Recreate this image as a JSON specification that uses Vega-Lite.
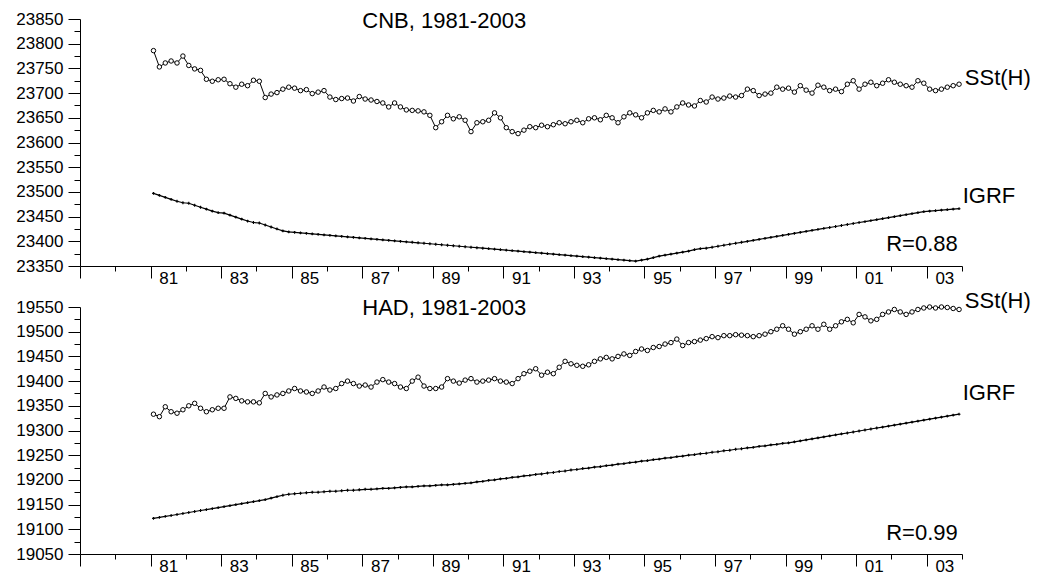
{
  "$schema": "https://vega.github.io/schema/vega-lite/v6.json",
  "background": "white",
  "padding": {"left": 15, "top": 10, "right": 5, "bottom": 5},
  "bounds": "flush",
  "spacing": 41,
  "config": {
    "view": {"stroke": null},
    "font": "Liberation Sans",
    "axis": {"domainColor": "black", "domainWidth": 1, "tickColor": "black", "tickWidth": 1, "labelColor": "black", "labelFont": "Liberation Sans", "labelFontSize": 17, "grid": false, "labelOverlap": false, "labelFlush": false, "labelBound": false}
  },
  "datasets": {
    "cnb": [
      {"t": 1981.083, "sst": 23786, "igrf": 23497}, {"t": 1981.25, "sst": 23753, "igrf": 23493}, {"t": 1981.417, "sst": 23761, "igrf": 23489}, {"t": 1981.583, "sst": 23765, "igrf": 23485}, {"t": 1981.75, "sst": 23761, "igrf": 23481}, {"t": 1981.917, "sst": 23775, "igrf": 23478},
      {"t": 1982.083, "sst": 23756, "igrf": 23477}, {"t": 1982.25, "sst": 23749, "igrf": 23473}, {"t": 1982.417, "sst": 23746, "igrf": 23469}, {"t": 1982.583, "sst": 23728, "igrf": 23465}, {"t": 1982.75, "sst": 23724, "igrf": 23461}, {"t": 1982.917, "sst": 23727, "igrf": 23458},
      {"t": 1983.083, "sst": 23728, "igrf": 23457}, {"t": 1983.25, "sst": 23719, "igrf": 23453}, {"t": 1983.417, "sst": 23712, "igrf": 23449}, {"t": 1983.583, "sst": 23718, "igrf": 23445}, {"t": 1983.75, "sst": 23715, "igrf": 23441}, {"t": 1983.917, "sst": 23726, "igrf": 23438},
      {"t": 1984.083, "sst": 23724, "igrf": 23437}, {"t": 1984.25, "sst": 23691, "igrf": 23433}, {"t": 1984.417, "sst": 23698, "igrf": 23429}, {"t": 1984.583, "sst": 23701, "igrf": 23425}, {"t": 1984.75, "sst": 23708, "igrf": 23421}, {"t": 1984.917, "sst": 23712, "igrf": 23419},
      {"t": 1985.083, "sst": 23710, "igrf": 23418}, {"t": 1985.25, "sst": 23705, "igrf": 23417}, {"t": 1985.417, "sst": 23707, "igrf": 23416}, {"t": 1985.583, "sst": 23699, "igrf": 23415}, {"t": 1985.75, "sst": 23702, "igrf": 23414}, {"t": 1985.917, "sst": 23705, "igrf": 23413},
      {"t": 1986.083, "sst": 23692, "igrf": 23412}, {"t": 1986.25, "sst": 23687, "igrf": 23411}, {"t": 1986.417, "sst": 23689, "igrf": 23410}, {"t": 1986.583, "sst": 23690, "igrf": 23409}, {"t": 1986.75, "sst": 23684, "igrf": 23408}, {"t": 1986.917, "sst": 23693, "igrf": 23407},
      {"t": 1987.083, "sst": 23688, "igrf": 23406}, {"t": 1987.25, "sst": 23686, "igrf": 23405}, {"t": 1987.417, "sst": 23683, "igrf": 23404}, {"t": 1987.583, "sst": 23680, "igrf": 23403}, {"t": 1987.75, "sst": 23672, "igrf": 23402}, {"t": 1987.917, "sst": 23680, "igrf": 23401},
      {"t": 1988.083, "sst": 23672, "igrf": 23400}, {"t": 1988.25, "sst": 23666, "igrf": 23399}, {"t": 1988.417, "sst": 23665, "igrf": 23398}, {"t": 1988.583, "sst": 23664, "igrf": 23397}, {"t": 1988.75, "sst": 23662, "igrf": 23396}, {"t": 1988.917, "sst": 23655, "igrf": 23395},
      {"t": 1989.083, "sst": 23630, "igrf": 23394}, {"t": 1989.25, "sst": 23642, "igrf": 23393}, {"t": 1989.417, "sst": 23655, "igrf": 23392}, {"t": 1989.583, "sst": 23648, "igrf": 23391}, {"t": 1989.75, "sst": 23652, "igrf": 23390}, {"t": 1989.917, "sst": 23645, "igrf": 23389},
      {"t": 1990.083, "sst": 23622, "igrf": 23388}, {"t": 1990.25, "sst": 23640, "igrf": 23387}, {"t": 1990.417, "sst": 23642, "igrf": 23386}, {"t": 1990.583, "sst": 23645, "igrf": 23385}, {"t": 1990.75, "sst": 23660, "igrf": 23384}, {"t": 1990.917, "sst": 23650, "igrf": 23383},
      {"t": 1991.083, "sst": 23630, "igrf": 23382}, {"t": 1991.25, "sst": 23622, "igrf": 23381}, {"t": 1991.417, "sst": 23618, "igrf": 23380}, {"t": 1991.583, "sst": 23625, "igrf": 23379}, {"t": 1991.75, "sst": 23632, "igrf": 23378}, {"t": 1991.917, "sst": 23630, "igrf": 23377},
      {"t": 1992.083, "sst": 23635, "igrf": 23376}, {"t": 1992.25, "sst": 23632, "igrf": 23375}, {"t": 1992.417, "sst": 23636, "igrf": 23374}, {"t": 1992.583, "sst": 23640, "igrf": 23373}, {"t": 1992.75, "sst": 23638, "igrf": 23372}, {"t": 1992.917, "sst": 23642, "igrf": 23371},
      {"t": 1993.083, "sst": 23645, "igrf": 23370}, {"t": 1993.25, "sst": 23640, "igrf": 23369}, {"t": 1993.417, "sst": 23648, "igrf": 23368}, {"t": 1993.583, "sst": 23650, "igrf": 23367}, {"t": 1993.75, "sst": 23646, "igrf": 23366}, {"t": 1993.917, "sst": 23655, "igrf": 23365},
      {"t": 1994.083, "sst": 23650, "igrf": 23364}, {"t": 1994.25, "sst": 23640, "igrf": 23363}, {"t": 1994.417, "sst": 23652, "igrf": 23362}, {"t": 1994.583, "sst": 23660, "igrf": 23361}, {"t": 1994.75, "sst": 23656, "igrf": 23360}, {"t": 1994.917, "sst": 23650, "igrf": 23362},
      {"t": 1995.083, "sst": 23660, "igrf": 23364}, {"t": 1995.25, "sst": 23665, "igrf": 23367}, {"t": 1995.417, "sst": 23662, "igrf": 23370}, {"t": 1995.583, "sst": 23668, "igrf": 23372}, {"t": 1995.75, "sst": 23662, "igrf": 23374}, {"t": 1995.917, "sst": 23672, "igrf": 23376},
      {"t": 1996.083, "sst": 23680, "igrf": 23378}, {"t": 1996.25, "sst": 23676, "igrf": 23380}, {"t": 1996.417, "sst": 23674, "igrf": 23383}, {"t": 1996.583, "sst": 23685, "igrf": 23385}, {"t": 1996.75, "sst": 23682, "igrf": 23386}, {"t": 1996.917, "sst": 23692, "igrf": 23388},
      {"t": 1997.083, "sst": 23688, "igrf": 23390}, {"t": 1997.25, "sst": 23690, "igrf": 23392}, {"t": 1997.417, "sst": 23694, "igrf": 23394}, {"t": 1997.583, "sst": 23692, "igrf": 23396}, {"t": 1997.75, "sst": 23695, "igrf": 23398}, {"t": 1997.917, "sst": 23708, "igrf": 23400},
      {"t": 1998.083, "sst": 23705, "igrf": 23402}, {"t": 1998.25, "sst": 23695, "igrf": 23404}, {"t": 1998.417, "sst": 23698, "igrf": 23406}, {"t": 1998.583, "sst": 23700, "igrf": 23408}, {"t": 1998.75, "sst": 23712, "igrf": 23410}, {"t": 1998.917, "sst": 23708, "igrf": 23412},
      {"t": 1999.083, "sst": 23710, "igrf": 23414}, {"t": 1999.25, "sst": 23702, "igrf": 23416}, {"t": 1999.417, "sst": 23715, "igrf": 23418}, {"t": 1999.583, "sst": 23706, "igrf": 23420}, {"t": 1999.75, "sst": 23700, "igrf": 23422}, {"t": 1999.917, "sst": 23716, "igrf": 23424},
      {"t": 2000.083, "sst": 23712, "igrf": 23426}, {"t": 2000.25, "sst": 23705, "igrf": 23428}, {"t": 2000.417, "sst": 23708, "igrf": 23430}, {"t": 2000.583, "sst": 23703, "igrf": 23432}, {"t": 2000.75, "sst": 23718, "igrf": 23434}, {"t": 2000.917, "sst": 23725, "igrf": 23436},
      {"t": 2001.083, "sst": 23708, "igrf": 23438}, {"t": 2001.25, "sst": 23718, "igrf": 23440}, {"t": 2001.417, "sst": 23722, "igrf": 23442}, {"t": 2001.583, "sst": 23715, "igrf": 23444}, {"t": 2001.75, "sst": 23720, "igrf": 23446}, {"t": 2001.917, "sst": 23727, "igrf": 23448},
      {"t": 2002.083, "sst": 23722, "igrf": 23450}, {"t": 2002.25, "sst": 23718, "igrf": 23452}, {"t": 2002.417, "sst": 23715, "igrf": 23454}, {"t": 2002.583, "sst": 23712, "igrf": 23456}, {"t": 2002.75, "sst": 23725, "igrf": 23458}, {"t": 2002.917, "sst": 23720, "igrf": 23460},
      {"t": 2003.083, "sst": 23708, "igrf": 23461}, {"t": 2003.25, "sst": 23705, "igrf": 23462}, {"t": 2003.417, "sst": 23708, "igrf": 23463}, {"t": 2003.583, "sst": 23712, "igrf": 23464}, {"t": 2003.75, "sst": 23715, "igrf": 23465}, {"t": 2003.917, "sst": 23718, "igrf": 23466}
    ],
    "had": [
      {"t": 1981.083, "sst": 19333, "igrf": 19122}, {"t": 1981.25, "sst": 19328, "igrf": 19124}, {"t": 1981.417, "sst": 19348, "igrf": 19126}, {"t": 1981.583, "sst": 19338, "igrf": 19128}, {"t": 1981.75, "sst": 19335, "igrf": 19130}, {"t": 1981.917, "sst": 19342, "igrf": 19132},
      {"t": 1982.083, "sst": 19350, "igrf": 19134}, {"t": 1982.25, "sst": 19355, "igrf": 19136}, {"t": 1982.417, "sst": 19345, "igrf": 19138}, {"t": 1982.583, "sst": 19338, "igrf": 19140}, {"t": 1982.75, "sst": 19342, "igrf": 19142}, {"t": 1982.917, "sst": 19345, "igrf": 19144},
      {"t": 1983.083, "sst": 19345, "igrf": 19146}, {"t": 1983.25, "sst": 19368, "igrf": 19148}, {"t": 1983.417, "sst": 19365, "igrf": 19150}, {"t": 1983.583, "sst": 19360, "igrf": 19152}, {"t": 1983.75, "sst": 19358, "igrf": 19154}, {"t": 1983.917, "sst": 19358, "igrf": 19156},
      {"t": 1984.083, "sst": 19356, "igrf": 19158}, {"t": 1984.25, "sst": 19375, "igrf": 19160}, {"t": 1984.417, "sst": 19368, "igrf": 19163}, {"t": 1984.583, "sst": 19372, "igrf": 19166}, {"t": 1984.75, "sst": 19375, "igrf": 19169}, {"t": 1984.917, "sst": 19380, "igrf": 19171},
      {"t": 1985.083, "sst": 19385, "igrf": 19172}, {"t": 1985.25, "sst": 19380, "igrf": 19173}, {"t": 1985.417, "sst": 19378, "igrf": 19174}, {"t": 1985.583, "sst": 19375, "igrf": 19175}, {"t": 1985.75, "sst": 19380, "igrf": 19175}, {"t": 1985.917, "sst": 19388, "igrf": 19176},
      {"t": 1986.083, "sst": 19382, "igrf": 19177}, {"t": 1986.25, "sst": 19385, "igrf": 19177}, {"t": 1986.417, "sst": 19395, "igrf": 19178}, {"t": 1986.583, "sst": 19400, "igrf": 19179}, {"t": 1986.75, "sst": 19395, "igrf": 19179}, {"t": 1986.917, "sst": 19390, "igrf": 19180},
      {"t": 1987.083, "sst": 19392, "igrf": 19181}, {"t": 1987.25, "sst": 19388, "igrf": 19181}, {"t": 1987.417, "sst": 19398, "igrf": 19182}, {"t": 1987.583, "sst": 19403, "igrf": 19183}, {"t": 1987.75, "sst": 19398, "igrf": 19183}, {"t": 1987.917, "sst": 19395, "igrf": 19184},
      {"t": 1988.083, "sst": 19388, "igrf": 19185}, {"t": 1988.25, "sst": 19385, "igrf": 19186}, {"t": 1988.417, "sst": 19400, "igrf": 19186}, {"t": 1988.583, "sst": 19408, "igrf": 19187}, {"t": 1988.75, "sst": 19390, "igrf": 19188}, {"t": 1988.917, "sst": 19385, "igrf": 19188},
      {"t": 1989.083, "sst": 19385, "igrf": 19189}, {"t": 1989.25, "sst": 19388, "igrf": 19190}, {"t": 1989.417, "sst": 19405, "igrf": 19190}, {"t": 1989.583, "sst": 19400, "igrf": 19191}, {"t": 1989.75, "sst": 19396, "igrf": 19192}, {"t": 1989.917, "sst": 19402, "igrf": 19193},
      {"t": 1990.083, "sst": 19405, "igrf": 19194}, {"t": 1990.25, "sst": 19398, "igrf": 19196}, {"t": 1990.417, "sst": 19400, "igrf": 19197}, {"t": 1990.583, "sst": 19402, "igrf": 19199}, {"t": 1990.75, "sst": 19405, "igrf": 19200}, {"t": 1990.917, "sst": 19400, "igrf": 19202},
      {"t": 1991.083, "sst": 19398, "igrf": 19203}, {"t": 1991.25, "sst": 19395, "igrf": 19205}, {"t": 1991.417, "sst": 19405, "igrf": 19206}, {"t": 1991.583, "sst": 19415, "igrf": 19208}, {"t": 1991.75, "sst": 19420, "igrf": 19209}, {"t": 1991.917, "sst": 19425, "igrf": 19211},
      {"t": 1992.083, "sst": 19412, "igrf": 19212}, {"t": 1992.25, "sst": 19418, "igrf": 19214}, {"t": 1992.417, "sst": 19415, "igrf": 19215}, {"t": 1992.583, "sst": 19428, "igrf": 19217}, {"t": 1992.75, "sst": 19440, "igrf": 19218}, {"t": 1992.917, "sst": 19435, "igrf": 19220},
      {"t": 1993.083, "sst": 19432, "igrf": 19221}, {"t": 1993.25, "sst": 19430, "igrf": 19223}, {"t": 1993.417, "sst": 19433, "igrf": 19224}, {"t": 1993.583, "sst": 19440, "igrf": 19226}, {"t": 1993.75, "sst": 19445, "igrf": 19227}, {"t": 1993.917, "sst": 19448, "igrf": 19229},
      {"t": 1994.083, "sst": 19445, "igrf": 19230}, {"t": 1994.25, "sst": 19450, "igrf": 19232}, {"t": 1994.417, "sst": 19455, "igrf": 19233}, {"t": 1994.583, "sst": 19452, "igrf": 19235}, {"t": 1994.75, "sst": 19460, "igrf": 19236}, {"t": 1994.917, "sst": 19465, "igrf": 19238},
      {"t": 1995.083, "sst": 19462, "igrf": 19239}, {"t": 1995.25, "sst": 19468, "igrf": 19241}, {"t": 1995.417, "sst": 19470, "igrf": 19242}, {"t": 1995.583, "sst": 19475, "igrf": 19244}, {"t": 1995.75, "sst": 19478, "igrf": 19245}, {"t": 1995.917, "sst": 19485, "igrf": 19247},
      {"t": 1996.083, "sst": 19472, "igrf": 19248}, {"t": 1996.25, "sst": 19478, "igrf": 19250}, {"t": 1996.417, "sst": 19480, "igrf": 19251}, {"t": 1996.583, "sst": 19483, "igrf": 19253}, {"t": 1996.75, "sst": 19486, "igrf": 19254}, {"t": 1996.917, "sst": 19490, "igrf": 19256},
      {"t": 1997.083, "sst": 19488, "igrf": 19257}, {"t": 1997.25, "sst": 19492, "igrf": 19259}, {"t": 1997.417, "sst": 19492, "igrf": 19260}, {"t": 1997.583, "sst": 19494, "igrf": 19262}, {"t": 1997.75, "sst": 19493, "igrf": 19263}, {"t": 1997.917, "sst": 19492, "igrf": 19265},
      {"t": 1998.083, "sst": 19490, "igrf": 19266}, {"t": 1998.25, "sst": 19492, "igrf": 19268}, {"t": 1998.417, "sst": 19495, "igrf": 19269}, {"t": 1998.583, "sst": 19500, "igrf": 19271}, {"t": 1998.75, "sst": 19505, "igrf": 19272}, {"t": 1998.917, "sst": 19512, "igrf": 19274},
      {"t": 1999.083, "sst": 19505, "igrf": 19275}, {"t": 1999.25, "sst": 19495, "igrf": 19277}, {"t": 1999.417, "sst": 19500, "igrf": 19279}, {"t": 1999.583, "sst": 19505, "igrf": 19281}, {"t": 1999.75, "sst": 19512, "igrf": 19283}, {"t": 1999.917, "sst": 19505, "igrf": 19285},
      {"t": 2000.083, "sst": 19515, "igrf": 19287}, {"t": 2000.25, "sst": 19505, "igrf": 19289}, {"t": 2000.417, "sst": 19512, "igrf": 19291}, {"t": 2000.583, "sst": 19520, "igrf": 19293}, {"t": 2000.75, "sst": 19525, "igrf": 19295}, {"t": 2000.917, "sst": 19518, "igrf": 19297},
      {"t": 2001.083, "sst": 19535, "igrf": 19299}, {"t": 2001.25, "sst": 19530, "igrf": 19301}, {"t": 2001.417, "sst": 19522, "igrf": 19303}, {"t": 2001.583, "sst": 19525, "igrf": 19305}, {"t": 2001.75, "sst": 19535, "igrf": 19307}, {"t": 2001.917, "sst": 19540, "igrf": 19309},
      {"t": 2002.083, "sst": 19545, "igrf": 19311}, {"t": 2002.25, "sst": 19540, "igrf": 19313}, {"t": 2002.417, "sst": 19535, "igrf": 19315}, {"t": 2002.583, "sst": 19540, "igrf": 19317}, {"t": 2002.75, "sst": 19545, "igrf": 19319}, {"t": 2002.917, "sst": 19548, "igrf": 19321},
      {"t": 2003.083, "sst": 19550, "igrf": 19323}, {"t": 2003.25, "sst": 19548, "igrf": 19325}, {"t": 2003.417, "sst": 19550, "igrf": 19327}, {"t": 2003.583, "sst": 19549, "igrf": 19329}, {"t": 2003.75, "sst": 19547, "igrf": 19331}, {"t": 2003.917, "sst": 19545, "igrf": 19333}
    ]
  },
  "vconcat": [
    {
      "width": 882,
      "height": 247,
      "data": {"name": "cnb"},
      "encoding": {
        "x": {"field": "t", "type": "quantitative",
          "scale": {"domain": [1979, 2004], "nice": false, "zero": false},
          "axis": {"title": null,
            "values": [1979, 1980, 1981, 1982, 1983, 1984, 1985, 1986, 1987, 1988, 1989, 1990, 1991, 1992, 1993, 1994, 1995, 1996, 1997, 1998, 1999, 2000, 2001, 2002, 2003, 2004, 1981.5, 1983.5, 1985.5, 1987.5, 1989.5, 1991.5, 1993.5, 1995.5, 1997.5, 1999.5, 2001.5, 2003.5],
            "tickSize": 12,
            "tickDash": {"condition": {"test": "datum.value % 2 === 0", "value": [5, 30]}, "value": []},
            "tickOpacity": {"condition": {"test": "datum.value % 1 !== 0", "value": 0}, "value": 1},
            "labelExpr": "datum.value % 1 !== 0 ? (floor(datum.value) % 100 < 10 ? '0' : '') + (floor(datum.value) % 100) : ''",
            "labelPadding": -8}
        },
        "y": {"field": "sst", "type": "quantitative",
          "scale": {"domain": [23350, 23850], "nice": false, "zero": false},
          "axis": {"title": null, "format": "d",
            "values": [23350, 23375, 23400, 23425, 23450, 23475, 23500, 23525, 23550, 23575, 23600, 23625, 23650, 23675, 23700, 23725, 23750, 23775, 23800, 23825, 23850],
            "tickSize": 12,
            "tickDash": {"condition": {"test": "datum.value % 50 !== 0", "value": [6, 30]}, "value": []},
            "labelExpr": "datum.value % 50 === 0 ? datum.label : ''",
            "labelPadding": 5}}
      },
      "layer": [
        {"mark": {"type": "line", "color": "black", "strokeWidth": 1}},
        {"mark": {"type": "point", "shape": "circle", "filled": true, "fill": "white", "stroke": "black", "strokeWidth": 1, "size": 20, "opacity": 1}},
        {"mark": {"type": "line", "color": "black", "strokeWidth": 1.2},
          "encoding": {"y": {"field": "igrf", "type": "quantitative"}}},
        {"mark": {"type": "point", "shape": "cross", "filled": true, "color": "black", "size": 8, "opacity": 1},
          "encoding": {"y": {"field": "igrf", "type": "quantitative"}}},
        {"mark": {"type": "text", "align": "left", "baseline": "middle", "fontSize": 22, "font": "Liberation Sans", "color": "black", "text": "CNB, 1981-2003"},
          "transform": [{"filter": "datum.t === 1981.083"}],
          "encoding": {"x": {"datum": 1987.0, "type": "quantitative"}, "y": {"datum": 23845, "type": "quantitative"}}},
        {"mark": {"type": "text", "align": "left", "baseline": "middle", "fontSize": 22, "font": "Liberation Sans", "color": "black", "text": "SSt(H)"},
          "transform": [{"filter": "datum.t === 1981.083"}],
          "encoding": {"x": {"datum": 2004.08, "type": "quantitative"}, "y": {"datum": 23730, "type": "quantitative"}}},
        {"mark": {"type": "text", "align": "left", "baseline": "middle", "fontSize": 22, "font": "Liberation Sans", "color": "black", "text": "IGRF"},
          "transform": [{"filter": "datum.t === 1981.083"}],
          "encoding": {"x": {"datum": 2004.02, "type": "quantitative"}, "y": {"datum": 23492, "type": "quantitative"}}},
        {"mark": {"type": "text", "align": "right", "baseline": "middle", "fontSize": 22, "font": "Liberation Sans", "color": "black", "text": "R=0.88"},
          "transform": [{"filter": "datum.t === 1981.083"}],
          "encoding": {"x": {"datum": 2003.88, "type": "quantitative"}, "y": {"datum": 23395, "type": "quantitative"}}}
      ]
    },
    {
      "width": 882,
      "height": 247,
      "data": {"name": "had"},
      "encoding": {
        "x": {"field": "t", "type": "quantitative",
          "scale": {"domain": [1979, 2004], "nice": false, "zero": false},
          "axis": {"title": null,
            "values": [1979, 1980, 1981, 1982, 1983, 1984, 1985, 1986, 1987, 1988, 1989, 1990, 1991, 1992, 1993, 1994, 1995, 1996, 1997, 1998, 1999, 2000, 2001, 2002, 2003, 2004, 1981.5, 1983.5, 1985.5, 1987.5, 1989.5, 1991.5, 1993.5, 1995.5, 1997.5, 1999.5, 2001.5, 2003.5],
            "tickSize": 12,
            "tickDash": {"condition": {"test": "datum.value % 2 === 0", "value": [5, 30]}, "value": []},
            "tickOpacity": {"condition": {"test": "datum.value % 1 !== 0", "value": 0}, "value": 1},
            "labelExpr": "datum.value % 1 !== 0 ? (floor(datum.value) % 100 < 10 ? '0' : '') + (floor(datum.value) % 100) : ''",
            "labelPadding": -8}
        },
        "y": {"field": "sst", "type": "quantitative",
          "scale": {"domain": [19050, 19550], "nice": false, "zero": false},
          "axis": {"title": null, "format": "d",
            "values": [19050, 19075, 19100, 19125, 19150, 19175, 19200, 19225, 19250, 19275, 19300, 19325, 19350, 19375, 19400, 19425, 19450, 19475, 19500, 19525, 19550],
            "tickSize": 12,
            "tickDash": {"condition": {"test": "datum.value % 50 !== 0", "value": [6, 30]}, "value": []},
            "labelExpr": "datum.value % 50 === 0 ? datum.label : ''",
            "labelPadding": 5}}
      },
      "layer": [
        {"mark": {"type": "line", "color": "black", "strokeWidth": 1}},
        {"mark": {"type": "point", "shape": "circle", "filled": true, "fill": "white", "stroke": "black", "strokeWidth": 1, "size": 20, "opacity": 1}},
        {"mark": {"type": "line", "color": "black", "strokeWidth": 1.2},
          "encoding": {"y": {"field": "igrf", "type": "quantitative"}}},
        {"mark": {"type": "point", "shape": "cross", "filled": true, "color": "black", "size": 8, "opacity": 1},
          "encoding": {"y": {"field": "igrf", "type": "quantitative"}}},
        {"mark": {"type": "text", "align": "left", "baseline": "middle", "fontSize": 22, "font": "Liberation Sans", "color": "black", "text": "HAD, 1981-2003"},
          "transform": [{"filter": "datum.t === 1981.083"}],
          "encoding": {"x": {"datum": 1987.0, "type": "quantitative"}, "y": {"datum": 19548, "type": "quantitative"}}},
        {"mark": {"type": "text", "align": "left", "baseline": "middle", "fontSize": 22, "font": "Liberation Sans", "color": "black", "text": "SSt(H)"},
          "transform": [{"filter": "datum.t === 1981.083"}],
          "encoding": {"x": {"datum": 2004.08, "type": "quantitative"}, "y": {"datum": 19563, "type": "quantitative"}}},
        {"mark": {"type": "text", "align": "left", "baseline": "middle", "fontSize": 22, "font": "Liberation Sans", "color": "black", "text": "IGRF"},
          "transform": [{"filter": "datum.t === 1981.083"}],
          "encoding": {"x": {"datum": 2004.02, "type": "quantitative"}, "y": {"datum": 19375, "type": "quantitative"}}},
        {"mark": {"type": "text", "align": "right", "baseline": "middle", "fontSize": 22, "font": "Liberation Sans", "color": "black", "text": "R=0.99"},
          "transform": [{"filter": "datum.t === 1981.083"}],
          "encoding": {"x": {"datum": 2003.88, "type": "quantitative"}, "y": {"datum": 19092, "type": "quantitative"}}}
      ]
    }
  ]
}
